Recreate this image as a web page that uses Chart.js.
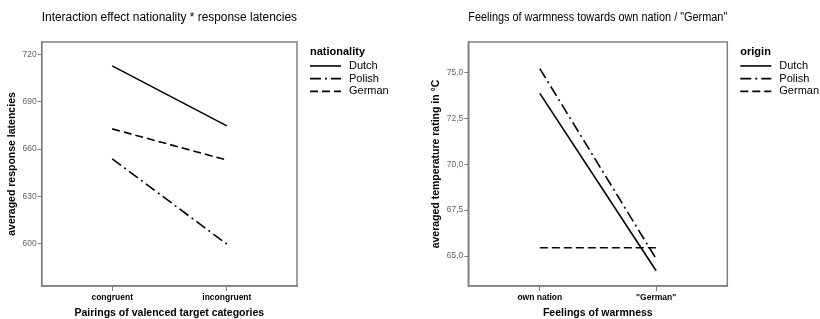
<!DOCTYPE html>
<html>
<head>
<meta charset="utf-8">
<script src="https://cdn.jsdelivr.net/npm/chart.js@4.4.1/dist/chart.umd.min.js"></script>
<style>
  body { margin: 0; background: #fff; }
  #wrap { position: relative; width: 820px; height: 319px; }
  canvas { position: absolute; top: 0; }
</style>
</head>
<body>
<div id="wrap">
  <canvas id="left" width="410" height="319" style="left:0"></canvas>
  <canvas id="right" width="410" height="319" style="left:410px"></canvas>
</div>
<script>
// left chart: response latencies
const leftCategories = ['congruent', 'incongruent'];
const leftDutch = [712.8, 674.7];
const leftPolish = [653.8, 599.6];
const leftGerman = [672.8, 653.0];
const leftTicks = [600, 630, 660, 690, 720];

// right chart: warmness ratings
const rightCategories = ['own nation', '"German"'];
const rightDutch = [73.85, 64.2];
const rightPolish = [75.2, 64.85];
const rightGerman = [65.45, 65.45];
const rightTicks = [65.0, 67.5, 70.0, 72.5, 75.0];

const seriesNames = ['Dutch', 'Polish', 'German'];
const dashes = [[], [11, 4, 2, 4], [8, 4]];

const FONT = "'Liberation Sans', Arial, sans-serif";
const GRAY = '#808080';

// spss style frame round the plot area
const framePlugin = {
    id: 'frame',
    afterDraw(chart) {
        const a = chart.chartArea;
        const ctx = chart.ctx;
        ctx.save();
        ctx.strokeStyle = GRAY;
        ctx.lineWidth = 1.5;
        ctx.strokeRect(a.left, a.top, a.right - a.left, a.bottom - a.top);
        ctx.restore();
    }
};

// legend to the right of the frame, line samples keep the dash of the dataset
const sideLegend = {
    id: 'sideLegend',
    afterDraw(chart, args, opts) {
        const ctx = chart.ctx;
        const x = chart.chartArea.right + 13;
        let y = chart.chartArea.top + 10;
        ctx.save();
        ctx.fillStyle = '#000';
        ctx.textBaseline = 'middle';
        ctx.font = 'bold 11px ' + FONT;
        ctx.fillText(opts.title, x, y);
        y += 14;
        ctx.font = '11px ' + FONT;
        chart.data.datasets.forEach(ds => {
            ctx.beginPath();
            ctx.setLineDash(ds.borderDash || []);
            ctx.lineWidth = ds.borderWidth;
            ctx.strokeStyle = ds.borderColor;
            ctx.moveTo(x, y);
            ctx.lineTo(x + 31, y);
            ctx.stroke();
            ctx.setLineDash([]);
            ctx.fillText(ds.label, x + 39, y);
            y += 12.7;
        });
        ctx.restore();
    }
};

function toPoints(values) {
    return values.map((v, i) => ({x: i + 1, y: v}));
}

function makeChart(id, opts) {
    const datasets = opts.series.map((values, i) => ({
        label: seriesNames[i],
        data: toPoints(values),
        borderColor: '#000',
        borderWidth: 1.6,
        borderDash: dashes[i],
        pointRadius: 0,
        fill: false,
        tension: 0
    }));

    return new Chart(document.getElementById(id), {
        type: 'line',
        data: {datasets: datasets},
        plugins: [framePlugin, sideLegend],
        options: {
            responsive: false,
            animation: false,
            layout: {padding: {left: opts.padLeft, right: opts.padRight, top: 10, bottom: 0}},
            plugins: {
                tooltip: {enabled: false},
                legend: {display: false},
                sideLegend: {title: opts.legendTitle},
                title: {
                    display: true,
                    text: opts.title,
                    fullSize: false,
                    color: '#000',
                    font: {family: FONT, size: 12.3, weight: 'normal'},
                    padding: {top: 0, bottom: 17.2}
                }
            },
            scales: {
                x: {
                    type: 'linear',
                    min: 0.385,
                    max: 2.612,
                    afterBuildTicks: s => { s.ticks = [{value: 1}, {value: 2}]; },
                    afterFit: s => { s.height = 33; },
                    grid: {drawOnChartArea: false, color: GRAY, tickLength: 5},
                    border: {color: GRAY, width: 1.5},
                    ticks: {
                        color: '#000',
                        font: {family: FONT, size: 8.5, weight: 'bold'},
                        padding: 2,
                        callback: v => opts.categories[v - 1]
                    },
                    title: {
                        display: true,
                        text: opts.xTitle,
                        color: '#000',
                        font: {family: FONT, size: 10.5, weight: 'bold'},
                        padding: {top: 2, bottom: 0}
                    }
                },
                y: {
                    min: opts.yMin,
                    max: opts.yMax,
                    afterBuildTicks: s => { s.ticks = opts.ticks.map(v => ({value: v})); },
                    afterFit: s => { s.width = opts.yWidth; },
                    grid: {drawOnChartArea: false, color: GRAY, tickLength: 4},
                    border: {color: GRAY, width: 1.5},
                    ticks: {
                        color: '#666',
                        font: {family: FONT, size: 8.5},
                        padding: 1,
                        callback: opts.tickFormat
                    },
                    title: {
                        display: true,
                        text: opts.yTitle,
                        color: '#000',
                        font: {family: FONT, size: 10.5, weight: 'bold'},
                        padding: {top: 0, bottom: 2}
                    }
                }
            }
        }
    });
}

makeChart('left', {
    title: 'Interaction effect nationality * response latencies',
    legendTitle: 'nationality',
    xTitle: 'Pairings of valenced target categories',
    yTitle: 'averaged response latencies',
    categories: leftCategories,
    series: [leftDutch, leftPolish, leftGerman],
    ticks: leftTicks,
    yMin: 573,
    yMax: 728,
    padLeft: 6,
    padRight: 113,
    yWidth: 35.7,
    tickFormat: v => String(v)
});

makeChart('right', {
    title: 'Feelings of warmness towards own nation / "German"',
    legendTitle: 'origin',
    xTitle: 'Feelings of warmness',
    yTitle: 'averaged temperature rating in °C',
    categories: rightCategories,
    series: [rightDutch, rightPolish, rightGerman],
    ticks: rightTicks,
    yMin: 63.37,
    yMax: 76.65,
    padLeft: 20,
    padRight: 92.7,
    yWidth: 38.3,
    tickFormat: v => v.toFixed(1).replace('.', ',')
});
</script>
</body>
</html>
